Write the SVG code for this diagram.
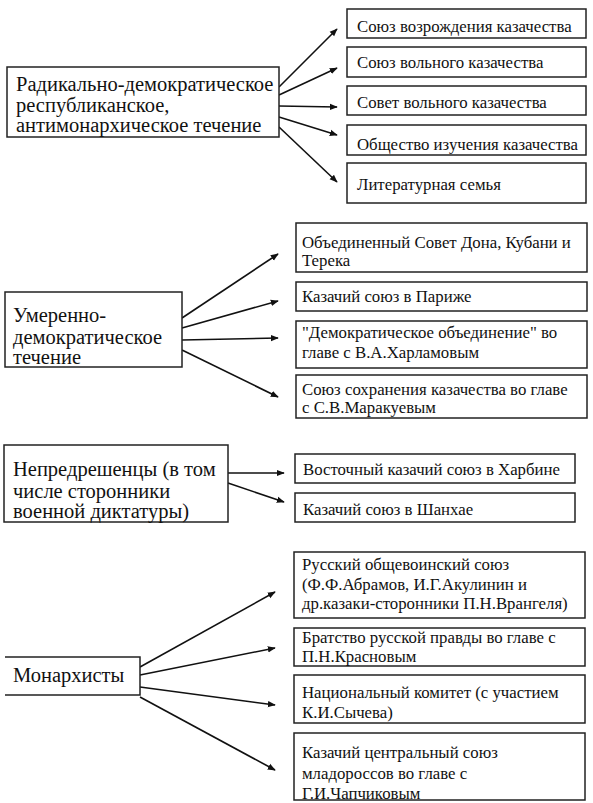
<svg xmlns="http://www.w3.org/2000/svg" width="593" height="803" viewBox="0 0 593 803">
<defs>
<marker id="ah" viewBox="0 0 10 10" refX="9" refY="5" markerWidth="5" markerHeight="5" orient="auto" markerUnits="strokeWidth">
<path d="M0,1 L10,5 L0,9 z" fill="#111"/>
</marker>
<style>
.bx{fill:#fff;stroke:#222;stroke-width:1.5}
.big{font-size:20.5px;fill:#111}
.sm{font-size:16.8px;fill:#111}
.ar{stroke:#111;stroke-width:1.6;fill:none;marker-end:url(#ah)}
</style>
</defs>
<rect width="593" height="803" fill="#fff"/>

<g id="connectors">
<line class="ar" x1="279" y1="87" x2="337" y2="29"/>
<line class="ar" x1="279" y1="95" x2="337" y2="68"/>
<line class="ar" x1="279" y1="106" x2="337" y2="107"/>
<line class="ar" x1="279" y1="117" x2="337" y2="135"/>
<line class="ar" x1="279" y1="127" x2="337" y2="182"/>

<line class="ar" x1="182" y1="318" x2="278" y2="254"/>
<line class="ar" x1="182" y1="328" x2="278" y2="301"/>
<line class="ar" x1="182" y1="340" x2="278" y2="338"/>
<line class="ar" x1="182" y1="350" x2="278" y2="397"/>

<line class="ar" x1="228" y1="473" x2="284" y2="473"/>
<line class="ar" x1="228" y1="483" x2="284" y2="502"/>

<line class="ar" x1="140" y1="667" x2="275" y2="592"/>
<line class="ar" x1="140" y1="675" x2="275" y2="648"/>
<line class="ar" x1="140" y1="687" x2="275" y2="705"/>
<line class="ar" x1="140" y1="697" x2="275" y2="770"/>
</g>

<g font-family="'Liberation Serif', 'Times New Roman', 'DejaVu Serif', serif">
<g id="n-radical">
<rect class="bx" x="7" y="67" width="272" height="70"/>
<text class="big" x="16" y="91">Радикально-демократическое</text>
<text class="big" x="16" y="112">республиканское,</text>
<text class="big" x="16" y="132">антимонархическое течение</text>
</g>
<g id="n-r1"><rect class="bx" x="347" y="9" width="239" height="29"/><text class="sm" x="357" y="32">Союз возрождения казачества</text></g>
<g id="n-r2"><rect class="bx" x="347" y="47" width="239" height="30"/><text class="sm" x="357" y="68">Союз вольного казачества</text></g>
<g id="n-r3"><rect class="bx" x="347" y="86" width="239" height="29"/><text class="sm" x="357" y="108">Совет вольного казачества</text></g>
<g id="n-r4"><rect class="bx" x="347" y="125" width="239" height="30"/><text class="sm" x="357" y="150">Общество изучения казачества</text></g>
<g id="n-r5"><rect class="bx" x="347" y="163" width="239" height="40"/><text class="sm" x="357" y="190">Литературная семья</text></g>

<g id="n-moderate">
<rect class="bx" x="5" y="292" width="177" height="75"/>
<text class="big" x="13" y="322">Умеренно-</text>
<text class="big" x="13" y="344">демократическое</text>
<text class="big" x="13" y="364">течение</text>
</g>
<g id="n-m1"><rect class="bx" x="296" y="223" width="291" height="49"/><text class="sm" x="302" y="248">Объединенный Совет Дона, Кубани и</text><text class="sm" x="302" y="266">Терека</text></g>
<g id="n-m2"><rect class="bx" x="296" y="282" width="291" height="29"/><text class="sm" x="302" y="302">Казачий союз в Париже</text></g>
<g id="n-m3"><rect class="bx" x="296" y="321" width="291" height="47"/><text class="sm" x="302" y="338">"Демократическое объединение" во</text><text class="sm" x="302" y="358">главе с В.А.Харламовым</text></g>
<g id="n-m4"><rect class="bx" x="296" y="375" width="291" height="43"/><text class="sm" x="302" y="395">Союз сохранения казачества во главе</text><text class="sm" x="302" y="413">с С.В.Маракуевым</text></g>

<g id="n-undecided">
<rect class="bx" x="4" y="445" width="224" height="77"/>
<text class="big" x="13" y="476">Непредрешенцы (в том</text>
<text class="big" x="13" y="498">числе сторонники</text>
<text class="big" x="13" y="518">военной диктатуры)</text>
</g>
<g id="n-u1"><rect class="bx" x="295" y="454" width="280" height="29"/><text class="sm" x="303" y="475">Восточный казачий союз в Харбине</text></g>
<g id="n-u2"><rect class="bx" x="295" y="493" width="280" height="29"/><text class="sm" x="303" y="515">Казачий союз в Шанхае</text></g>

<g id="n-monarchists">
<path d="M5,657 H140 V695 H5" fill="#fff" stroke="#222" stroke-width="1.5"/>
<text class="big" x="13" y="682">Монархисты</text>
</g>
<g id="n-k1"><rect class="bx" x="294" y="552" width="291" height="66"/><text class="sm" x="302" y="570">Русский общевоинский союз</text><text class="sm" x="302" y="590">(Ф.Ф.Абрамов, И.Г.Акулинин и</text><text class="sm" x="302" y="609">др.казаки-сторонники П.Н.Врангеля)</text></g>
<g id="n-k2"><rect class="bx" x="294" y="628" width="291" height="38"/><text class="sm" x="302" y="643">Братство русской правды во главе с</text><text class="sm" x="302" y="662">П.Н.Красновым</text></g>
<g id="n-k3"><rect class="bx" x="294" y="675" width="291" height="48"/><text class="sm" x="302" y="698">Национальный комитет (с участием</text><text class="sm" x="302" y="718">К.И.Сычева)</text></g>
<g id="n-k4"><rect class="bx" x="294" y="733" width="291" height="67"/><text class="sm" x="302" y="758">Казачий центральный союз</text><text class="sm" x="302" y="779">младороссов во главе с</text><text class="sm" x="302" y="799">Г.И.Чапчиковым</text></g>
</g>
</svg>
